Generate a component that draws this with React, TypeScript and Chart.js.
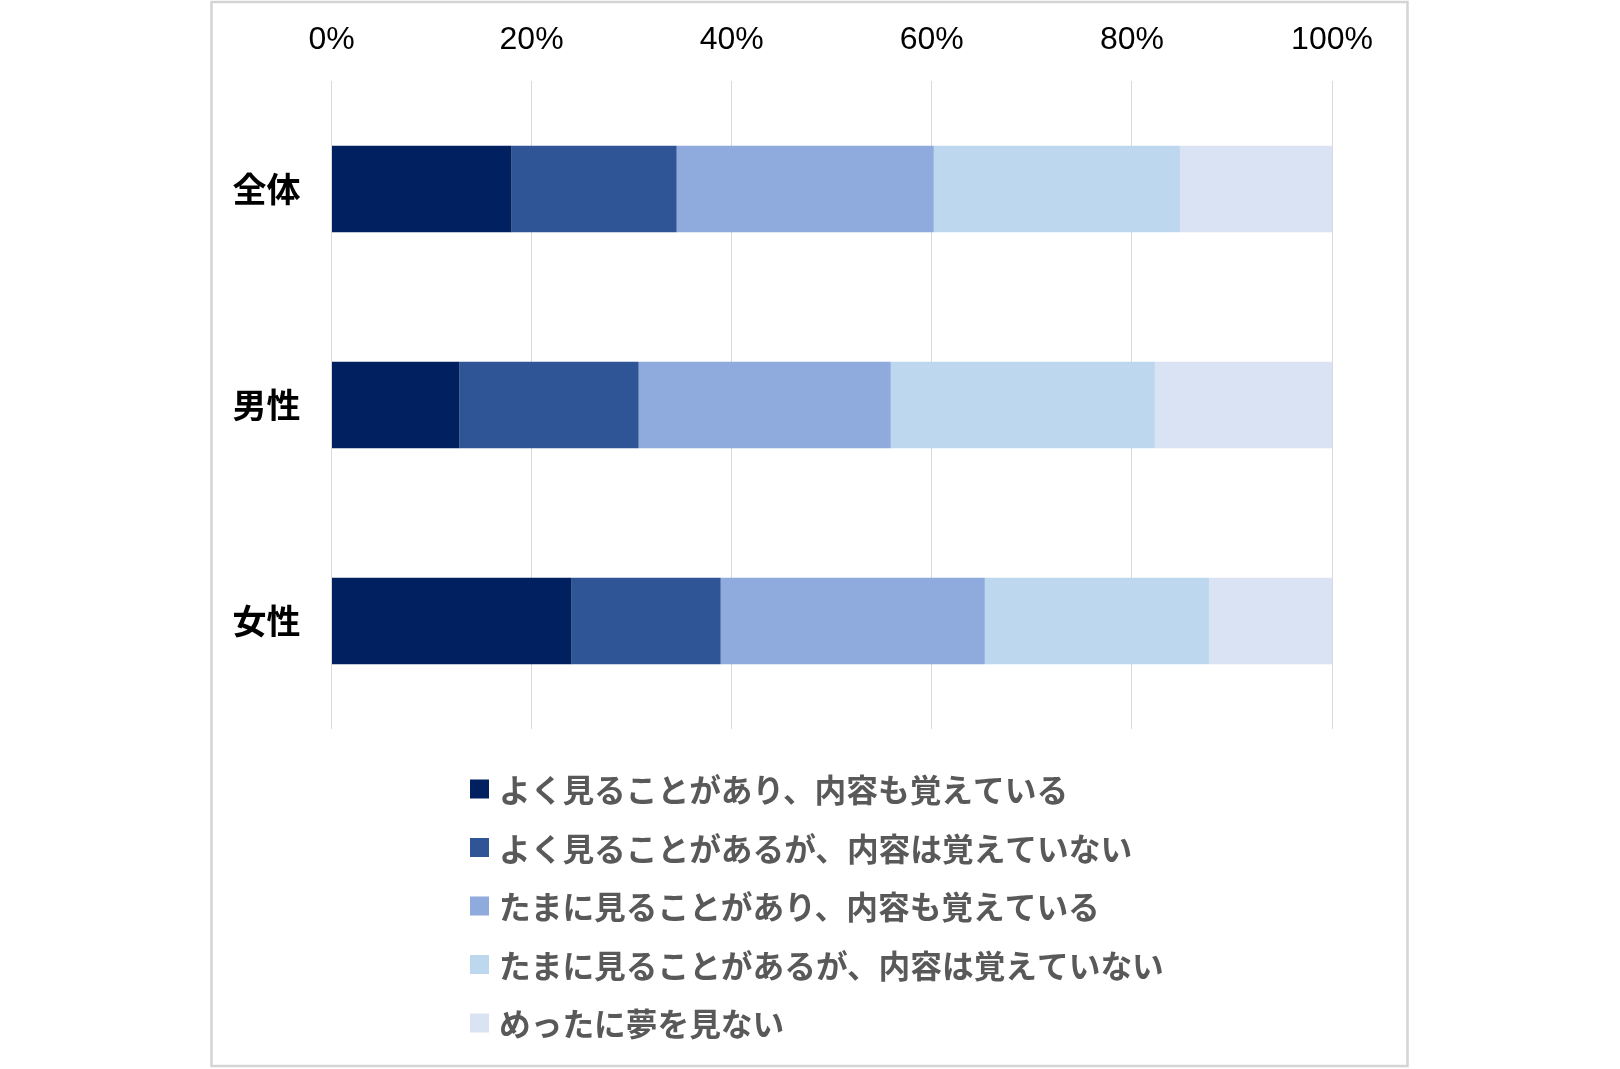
import React, { useEffect, useRef } from "react";
import { Chart, registerables } from "chart.js";

Chart.register(...registerables);

const categories = ["全体", "男性", "女性"];
const seriesLabels = [
  "よく見ることがあり、内容も覚えている",
  "よく見ることがあるが、内容は覚えていない",
  "たまに見ることがあり、内容も覚えている",
  "たまに見ることがあるが、内容は覚えていない",
  "めったに夢を見ない",
];
const oftenRemember = [18.0, 12.8, 24.0];
const oftenForget = [16.5, 17.9, 14.9];
const sometimesRemember = [25.7, 25.2, 26.4];
const sometimesForget = [24.6, 26.4, 22.4];
const rarely = [15.2, 17.7, 12.3];
const seriesValues = [oftenRemember, oftenForget, sometimesRemember, sometimesForget, rarely];
const seriesColors = ["#002060", "#2F5597", "#8FAADC", "#BDD7EE", "#DAE3F3"];
const xTickValues = [0, 20, 40, 60, 80, 100];

const W = 1620;
const H = 1069;

const framePlugin = {
  id: "frame",
  beforeDraw(chart: any) {
    const ctx = chart.ctx;
    ctx.save();
    ctx.fillStyle = "#ffffff";
    ctx.fillRect(0, 0, chart.width, chart.height);
    ctx.strokeStyle = "#d4d4d4";
    ctx.lineWidth = 2.5;
    ctx.strokeRect(211.5, 2, 1196, 1064);
    ctx.restore();
  },
};

const legendPlugin = {
  id: "customLegend",
  afterDraw(chart: any) {
    const ctx = chart.ctx;
    const area = chart.chartArea;
    const startY = area.bottom + 60;
    const step = 58.5;
    const boxX = 470;
    const box = 19;
    ctx.save();
    ctx.font = 'bold 31.7px "Noto Sans CJK JP", sans-serif';
    ctx.textBaseline = "middle";
    ctx.textAlign = "left";
    chart.data.datasets.forEach((ds: any, i: number) => {
      const cy = startY + step * i;
      ctx.fillStyle = ds.backgroundColor;
      ctx.fillRect(boxX, cy - box / 2, box, box);
      ctx.fillStyle = "#595959";
      ctx.fillText(ds.label, boxX + 29, cy + 1);
    });
    ctx.restore();
  },
};

export default function App() {
  const ref = useRef<HTMLCanvasElement | null>(null);

  useEffect(() => {
    if (!ref.current) return;
    const chart = new Chart(ref.current, {
      type: "bar",
      data: {
        labels: categories,
        datasets: seriesLabels.map((label, i) => ({
          label,
          data: seriesValues[i],
          backgroundColor: seriesColors[i],
          borderWidth: 0,
          barPercentage: 0.4,
          categoryPercentage: 1,
        })),
      },
      options: {
        indexAxis: "y",
        responsive: false,
        animation: false,
        layout: { padding: { left: 212, right: 288, top: 0, bottom: 340 } },
        plugins: {
          legend: { display: false },
          tooltip: { enabled: false },
        },
        scales: {
          x: {
            position: "top",
            stacked: true,
            min: 0,
            max: 100,
            afterBuildTicks: (s: any) => {
              s.ticks = xTickValues.map((v) => ({ value: v }));
            },
            afterFit: (s: any) => {
              s.height = 81;
            },
            ticks: {
              callback: (v: any) => v + "%",
              color: "#000000",
              padding: 22,
              font: { family: '"Liberation Sans", Arial, sans-serif', size: 32 },
            },
            grid: { color: "#d9d9d9", lineWidth: 1, drawTicks: false },
            border: { display: false },
          },
          y: {
            stacked: true,
            afterFit: (s: any) => {
              s.width = 119.5;
            },
            ticks: {
              color: "#000000",
              padding: 31,
              font: { family: '"Noto Sans CJK JP", sans-serif', size: 34, weight: "bold" },
            },
            grid: { display: false, drawTicks: false },
            border: { display: false },
          },
        },
      },
      plugins: [framePlugin, legendPlugin],
    } as any);
    return () => chart.destroy();
  }, []);

  return (
    <canvas
      ref={ref}
      width={W}
      height={H}
      style={{ position: "absolute", left: 0, top: 0, width: W + "px", height: H + "px", display: "block" }}
    />
  );
}
